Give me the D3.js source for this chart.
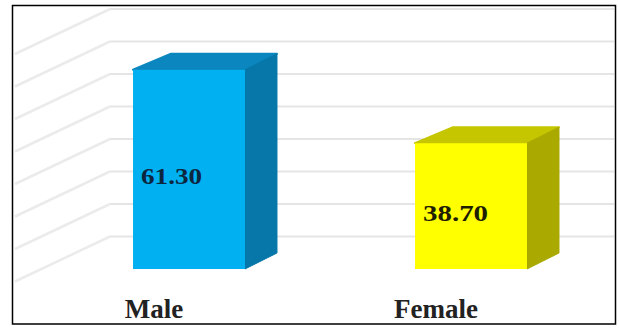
<!DOCTYPE html>
<html>
<head>
<meta charset="utf-8">
<script src="https://cdn.jsdelivr.net/npm/d3@7"></script>
<style>
  html, body { margin: 0; padding: 0; background: #fff; }
  svg { display: block; }
</style>
</head>
<body>
<svg id="chart" width="619" height="329"></svg>
<script>
const categories = ["Male", "Female"];
const values = [61.30, 38.70];
const valueLabels = ["61.30", "38.70"];
const gridTicks = [10, 20, 30, 40, 50, 60, 70, 80];
const frontColors = ["#00b0f0", "#ffff00"];
const topColors = ["#0b86bf", "#c6c600"];
const sideColors = ["#0677a8", "#a9a900"];
const labelColors = ["#0d2640", "#1e1e00"];

const W = 619, H = 329;
const svg = d3.select("#chart");

// frame
svg.append("rect")
  .attr("x", 12.5).attr("y", 5.5)
  .attr("width", 603).attr("height", 318.5)
  .attr("fill", "#fff").attr("stroke", "#000").attr("stroke-width", 1.5);

const y = d3.scaleLinear().domain([0, 80]).range([269, 9]);
const x = d3.scaleBand().domain(categories).range([48, 612]).paddingInner(0.603).paddingOuter(0.3015);

const wallX = 110, wallRight = 614;
const sideDx = -95, sideDy = 45;

// back wall gridlines
const grid = svg.append("g");
grid.selectAll("line.h").data(gridTicks).join("line")
  .attr("class", "h")
  .attr("x1", wallX).attr("x2", wallRight)
  .attr("y1", d => y(d)).attr("y2", d => y(d))
  .attr("stroke", "#e5e5e5").attr("stroke-width", 2);
grid.selectAll("line.d").data(gridTicks).join("line")
  .attr("class", "d")
  .attr("x1", wallX).attr("x2", wallX + sideDx)
  .attr("y1", d => y(d)).attr("y2", d => y(d) + sideDy)
  .attr("stroke", "#ebebeb").attr("stroke-width", 2.5);

// bars (3D)
const dxL = 38, dxR = 32, dy = -16;
const bw = x.bandwidth();
const bars = svg.append("g");
categories.forEach((c, i) => {
  const x0 = x(c), x1 = x(c) + bw;
  const yt = y(values[i]), yb = y(0);
  const g = bars.append("g");
  // top face
  g.append("path")
    .attr("d", `M${x0},${yt} L${x0 + dxL},${yt + dy} L${x1 + dxR},${yt + dy} L${x1},${yt} Z`)
    .attr("fill", topColors[i]).attr("stroke", topColors[i]).attr("stroke-linejoin", "round").attr("stroke-width", 2);
  // side face
  g.append("path")
    .attr("d", `M${x1},${yt} L${x1 + dxR},${yt + dy} L${x1 + dxR},${yb + dy} L${x1},${yb} Z`)
    .attr("fill", sideColors[i]).attr("stroke", sideColors[i]).attr("stroke-linejoin", "round").attr("stroke-width", 1);
  // front face
  g.append("rect")
    .attr("x", x0).attr("y", yt)
    .attr("width", bw).attr("height", yb - yt)
    .attr("fill", frontColors[i]);
  // value label
  g.append("text")
    .attr("x", x0 + 8)
    .attr("y", (yt + yb) / 2 + 15)
    .attr("font-family", "Liberation Serif, 'Times New Roman', serif")
    .attr("font-weight", "bold")
    .attr("font-size", 24)
    .attr("textLength", i === 0 ? 61 : 65)
    .attr("lengthAdjust", "spacingAndGlyphs")
    .attr("fill", labelColors[i])
    .text(valueLabels[i]);
});

// category labels
svg.append("g").selectAll("text").data(categories).join("text")
  .attr("x", d => x(d) + bw / 2 - 35)
  .attr("y", 318)
  .attr("text-anchor", "middle")
  .attr("font-family", "Liberation Serif, 'Times New Roman', serif")
  .attr("font-weight", "bold")
  .attr("font-size", 27)
  .attr("fill", "#222")
  .text(d => d);
</script>
</body>
</html>
